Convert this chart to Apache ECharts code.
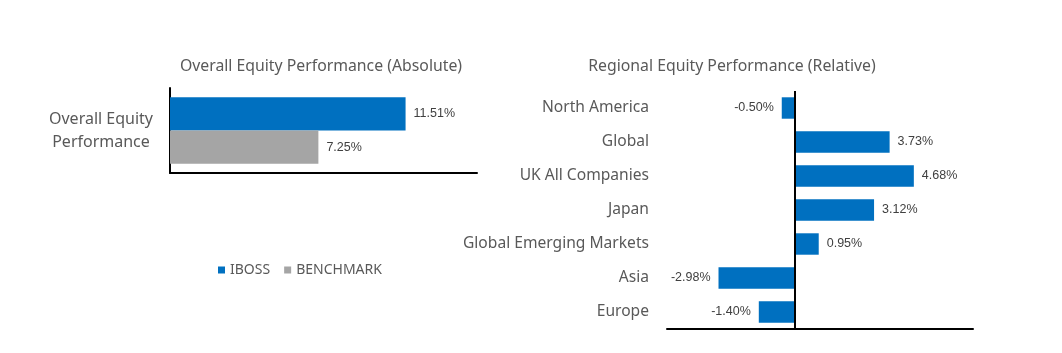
<!DOCTYPE html>
<html>
<head>
<meta charset="utf-8">
<script src="https://cdn.jsdelivr.net/npm/echarts@6/dist/echarts.min.js"></script>
<style>
  html, body { margin: 0; padding: 0; background: #fff; }
  #container { width: 1062px; height: 353px; }
</style>
</head>
<body>
<div id="container"></div>
<script>
const dom = document.getElementById('container')
const myChart = echarts.init(dom)

// left chart: overall performance
const overallCategories = ['Overall Equity\nPerformance']
const ibossOverall = [11.51]
const benchmarkOverall = [7.25]

// right chart: regional performance relative to benchmark
const regions = ['North America', 'Global', 'UK All Companies', 'Japan', 'Global Emerging Markets', 'Asia', 'Europe']
const regionalRelative = [-0.5, 3.73, 4.68, 3.12, 0.95, -2.98, -1.4]

const blue = '#0070C0'
const grey = '#A5A5A5'
const labelFont = 'Noto Sans'
const valueFont = 'Liberation Sans'

const pct = (p) => Number(p.value).toFixed(2) + '%'

const valueLabel = {
    show: true,
    distance: 8,
    formatter: pct,
    color: '#404040',
    fontSize: 12.5,
    fontFamily: valueFont
}

const option = {
    backgroundColor: '#fff',
    animation: false,
    title: [
        {
            text: 'Overall Equity Performance (Absolute)',
            left: 316,
            top: 53,
            textAlign: 'center',
            textStyle: { color: '#595959', fontSize: 15.8, fontWeight: 'normal', fontFamily: labelFont }
        },
        {
            text: 'Regional Equity Performance (Relative)',
            left: 727,
            top: 53,
            textAlign: 'center',
            textStyle: { color: '#595959', fontSize: 15.8, fontWeight: 'normal', fontFamily: labelFont }
        }
    ],
    legend: {
        data: ['IBOSS', 'BENCHMARK'],
        left: 213,
        top: 258,
        icon: 'rect',
        itemWidth: 7,
        itemHeight: 7,
        itemGap: 14,
        textStyle: { color: '#595959', fontSize: 14, fontFamily: labelFont }
    },
    grid: [
        { left: 170, top: 88, width: 307, height: 85 },
        { left: 667, top: 91, width: 306, height: 238 }
    ],
    xAxis: [
        {
            gridIndex: 0,
            type: 'value',
            min: 0,
            max: 15,
            axisLine: { show: true, lineStyle: { color: '#000', width: 2 } },
            axisTick: { show: false },
            axisLabel: { show: false },
            splitLine: { show: false }
        },
        {
            gridIndex: 1,
            type: 'value',
            min: -5,
            max: 7,
            interval: 1,
            axisLine: { show: true, onZero: false, lineStyle: { color: '#000', width: 2 } },
            axisTick: { show: false },
            axisLabel: { show: false },
            splitLine: { show: false }
        }
    ],
    yAxis: [
        {
            gridIndex: 0,
            type: 'category',
            data: overallCategories,
            axisLine: { show: true, lineStyle: { color: '#000', width: 2 } },
            axisTick: { show: false },
            axisLabel: {
                color: '#595959',
                fontSize: 16,
                fontFamily: labelFont,
                lineHeight: 23,
                align: 'center',
                margin: 69
            }
        },
        {
            gridIndex: 1,
            type: 'category',
            data: regions,
            inverse: true,
            axisLine: { show: false },
            axisTick: { show: false },
            axisLabel: {
                color: '#595959',
                fontSize: 15.6,
                fontFamily: labelFont,
                margin: 18,
                padding: [3, 0, 0, 0]
            }
        }
    ],
    series: [
        {
            name: 'IBOSS',
            type: 'bar',
            xAxisIndex: 0,
            yAxisIndex: 0,
            data: ibossOverall,
            barGap: '0%',
            barCategoryGap: '22%',
            itemStyle: { color: blue },
            label: Object.assign({ position: 'right' }, valueLabel)
        },
        {
            name: 'BENCHMARK',
            type: 'bar',
            xAxisIndex: 0,
            yAxisIndex: 0,
            data: benchmarkOverall,
            barGap: '0%',
            barCategoryGap: '22%',
            itemStyle: { color: grey },
            label: Object.assign({ position: 'right' }, valueLabel)
        },
        {
            name: 'Relative',
            type: 'bar',
            xAxisIndex: 1,
            yAxisIndex: 1,
            barCategoryGap: '37%',
            itemStyle: { color: blue },
            data: regionalRelative.map((v) => ({
                value: v,
                label: { position: v < 0 ? 'left' : 'right' }
            })),
            label: valueLabel,
            markLine: {
                silent: true,
                symbol: 'none',
                label: { show: false },
                lineStyle: { color: '#000', width: 2, type: 'solid' },
                data: [{ xAxis: 0 }]
            }
        }
    ]
}

myChart.setOption(option)
</script>
</body>
</html>
